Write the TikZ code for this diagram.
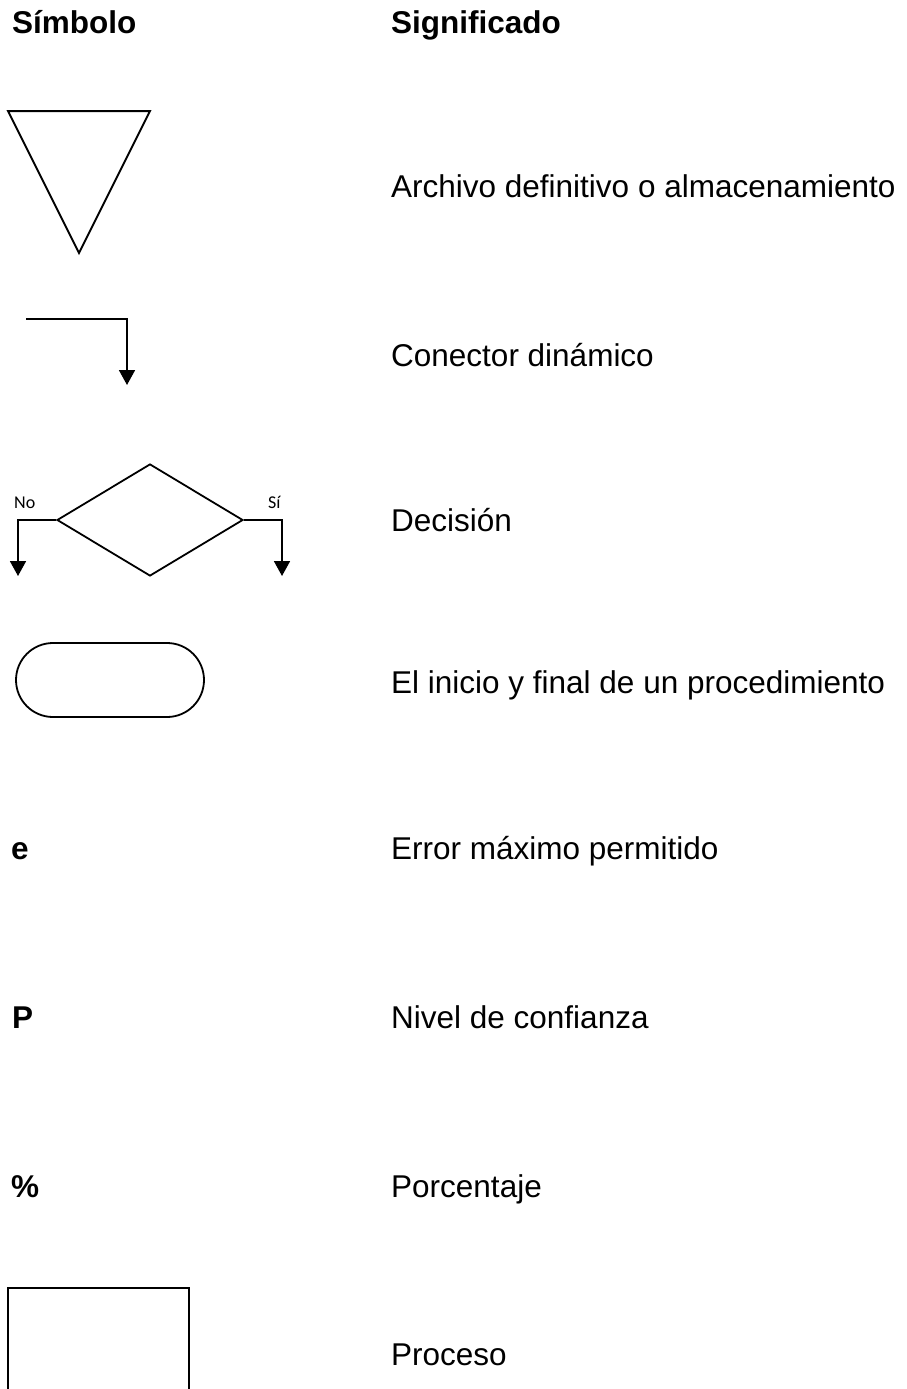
\documentclass[tikz,border=0pt]{standalone}
\usepackage{fontspec}
\setmainfont{Liberation Sans}
\newfontfamily\calfont{Carlito}
\usetikzlibrary{arrows.meta,shapes.geometric}
\begin{document}
\begin{tikzpicture}[x=1pt,y=-1pt,
  shapeline/.style={draw=black,line width=2pt,fill=white},
  conn/.style={draw=black,line width=1.8pt,-{Triangle[width=16pt,length=15pt]}},
  lbl/.style={font=\fontsize{31.5}{36}\selectfont,anchor=base west,inner sep=0pt},
  hdr/.style={font=\fontsize{31.5}{36}\selectfont\bfseries,anchor=base west,inner sep=0pt},
  small/.style={font=\calfont\fontsize{18}{20}\selectfont,anchor=base west,inner sep=0pt}]
\useasboundingbox (0,0) rectangle (907,1389);
\clip (0,0) rectangle (907,1389);
\fill[white] (0,0) rectangle (907,1389);

% headers
\node[hdr] (h1) at (12,34) {Símbolo};
\node[hdr] (h2) at (391,34) {Significado};

% storage triangle
\coordinate (t1) at (8,111);
\coordinate (t2) at (150,111);
\coordinate (t3) at (79,253);
\draw[shapeline,line join=miter] (t1) -- (t2) -- (t3) -- cycle;
\node[lbl] (m1) at (391,197) {Archivo definitivo o almacenamiento};

% dynamic connector
\coordinate (c0) at (26,319);
\coordinate (c1) at (127,385);
\draw[conn] (c0) -| (c1);
\node[lbl] (m2) at (391,366) {Conector dinámico};

% decision
\node[shapeline,shape=diamond,minimum width=186pt,minimum height=112pt,inner sep=0pt,line width=1.8pt] (dec) at (150,520) {};
\coordinate (no) at (18,576);
\coordinate (si) at (282,576);
\draw[conn] (dec.west) -| (no);
\draw[conn] (dec.east) -| (si);
\node[small] (nol) at (14,508) {No};
\node[small] (sil) at (268,508) {Sí};
\node[lbl] (m3) at (391,531) {Decisión};

% terminator
\node[shapeline,line width=1.8pt,rounded corners=37pt,minimum width=188pt,minimum height=74pt,inner sep=0pt] (term) at (110,680) {};
\node[lbl] (m4) at (391,693) {El inicio y final de un procedimiento};

% symbols
\node[hdr] (s5) at (11,859) {e};
\node[lbl] (m5) at (391,859) {Error máximo permitido};
\node[hdr] (s6) at (12,1028) {P};
\node[lbl] (m6) at (391,1028) {Nivel de confianza};
\node[hdr] (s7) at (11,1197) {\%};
\node[lbl] (m7) at (391,1197) {Porcentaje};

% process
\draw[shapeline] (8,1288) rectangle (189,1420);
\node[lbl] (m8) at (391,1365) {Proceso};
\end{tikzpicture}
\end{document}
